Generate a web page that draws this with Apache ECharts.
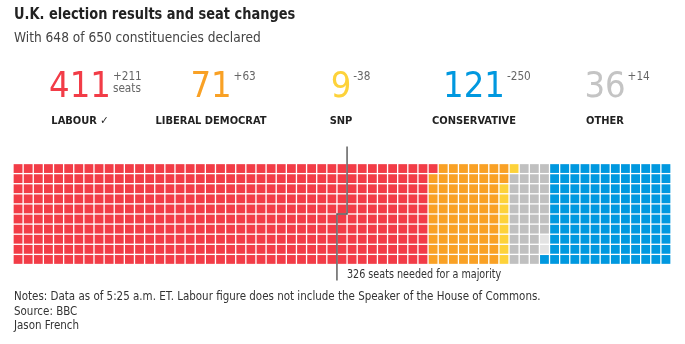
<!DOCTYPE html>
<html><head><meta charset="utf-8">
<script src="https://cdn.jsdelivr.net/npm/echarts@6/dist/echarts.min.js"></script>
<style>html,body{margin:0;padding:0;background:#fff}#c{width:685px;height:344px}</style>
</head><body><div id="c"></div>
<script>
// ---- data ----
const headerParties = ['LABOUR ✓', 'LIBERAL DEMOCRAT', 'SNP', 'CONSERVATIVE', 'OTHER'];
const headerSeats = [411, 71, 9, 121, 36];
const headerChanges = ['+211', '+63', '-38', '-250', '+14'];
const headerColors = ['#f23c47', '#f9a125', '#fdd23a', '#0098df', '#c4c4c4'];

const gridParties = ['Labour', 'Liberal Democrat', 'SNP', 'Other', 'Undeclared', 'Conservative'];
const gridSeats = [411, 71, 9, 36, 2, 121];
const gridColors = ['#f23c47', '#f9a125', '#fdd23a', '#c0c0c0', '#e3e3e3', '#0098df'];
const rowsPerColumn = 10;
const majority = 326;

const FONT = '"DejaVu Sans Condensed", sans-serif';

// ---- build cells ----
const cells = [];
let idx = 0;
gridSeats.forEach((n, p) => {
  for (let i = 0; i < n; i++) {
    cells.push([Math.floor(idx / rowsPerColumn), idx % rowsPerColumn, p]);
    idx++;
  }
});
const totalCols = Math.ceil(idx / rowsPerColumn);

const chart = echarts.init(document.getElementById('c'), null, {renderer: 'canvas'});

const mctx = document.createElement('canvas').getContext('2d');
function tw(text, font) { mctx.font = font; return mctx.measureText(text).width; }

const centers = [80, 211, 341, 474, 605];
const graphics = [];
headerParties.forEach((name, i) => {
  const cx = centers[i];
  const num = String(headerSeats[i]);
  const numFont = '36px ' + FONT;
  const w = tw(num, numFont);
  graphics.push({type: 'text', x: cx, y: 105.5, style: {
    text: num, font: numFont, fill: headerColors[i], textAlign: 'center', textVerticalAlign: 'bottom'}});
  graphics.push({type: 'text', x: cx + w / 2 + 2, y: 83, scaleX: 0.9, style: {
    text: headerChanges[i], font: '13px ' + FONT, fill: '#666', textAlign: 'left', textVerticalAlign: 'bottom'}});
  if (i === 0) {
    graphics.push({type: 'text', x: cx + w / 2 + 2, y: 95, scaleX: 0.9, style: {
      text: 'seats', font: '13px ' + FONT, fill: '#666', textAlign: 'left', textVerticalAlign: 'bottom'}});
  }
  graphics.push({type: 'text', x: cx, y: 126.5, style: {
    text: name, font: 'bold 11px ' + FONT, fill: '#222', textAlign: 'center', textVerticalAlign: 'bottom'}});
});
graphics.push({type: 'text', x: 14, y: 23, scaleX: 0.9, style: {text: 'U.K. election results and seat changes',
  font: 'bold 16px ' + FONT, fill: '#222', textVerticalAlign: 'bottom'}});
graphics.push({type: 'text', x: 14, y: 45.5, scaleX: 0.97, style: {text: 'With 648 of 650 constituencies declared',
  font: '14px ' + FONT, fill: '#444', textVerticalAlign: 'bottom'}});
const notes = ['Notes: Data as of 5:25 a.m. ET. Labour figure does not include the Speaker of the House of Commons.',
  'Source: BBC', 'Jason French'];
notes.forEach((t, i) => graphics.push({type: 'text', x: 14, y: 303 + i * 14.5, scaleX: 0.955, style: {text: t,
  font: '12px ' + FONT, fill: '#333', textVerticalAlign: 'bottom'}}));

chart.setOption({
  animation: false,
  grid: {left: 13, right: 14, top: 163.5, height: 101},
  xAxis: {type: 'value', min: 0, max: totalCols, show: false},
  yAxis: {type: 'value', min: 0, max: rowsPerColumn, inverse: true, show: false},
  graphic: graphics,
  series: [
    {
      type: 'custom', data: cells, encode: {x: 0, y: 1},
      renderItem: function (params, api) {
        const c = api.value(0), r = api.value(1), p = api.value(2);
        const tl = api.coord([c, r]);
        const s = api.size([1, 1]);
        const gap = 1.3;
        return {type: 'rect', shape: {x: tl[0] + gap / 2, y: tl[1] + gap / 2, width: s[0] - gap, height: s[1] - gap},
          style: {fill: gridColors[p]}};
      }
    },
    {
      type: 'custom', data: [[majority]], clip: false,
      renderItem: function (params, api) {
        const m = api.value(0) - 1;
        const col = Math.floor(m / rowsPerColumn), row = m % rowsPerColumn;
        const top = api.coord([0, 0])[1], bottom = api.coord([0, rowsPerColumn])[1];
        const xr = api.coord([col + 1, 0])[0], xl = api.coord([col, 0])[0];
        const ys = api.coord([0, row])[1];
        return {type: 'group', children: [
          {type: 'polyline', shape: {points: [[xr, top - 17], [xr, ys], [xl, ys], [xl, bottom + 16]]},
            style: {stroke: '#555', lineWidth: 1.4, fill: null}},
          {type: 'text', x: xl + 10, y: bottom + 11, scaleX: 0.93, style: {text: api.value(0) + ' seats needed for a majority',
            font: '11.5px ' + FONT, fill: '#333', textVerticalAlign: 'middle'}}
        ]};
      }
    }
  ]
});
</script></body></html>
